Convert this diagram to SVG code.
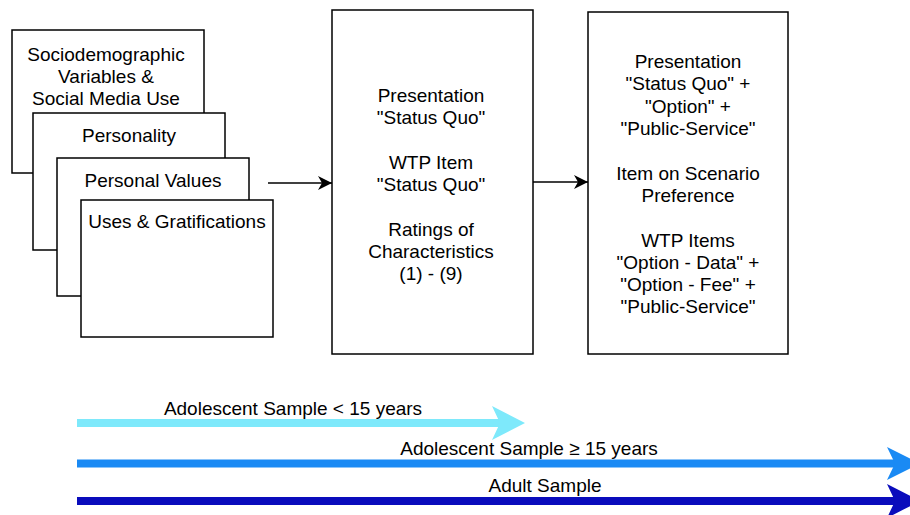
<svg xmlns="http://www.w3.org/2000/svg" width="910" height="515" viewBox="0 0 910 515">
<defs>
<style>
.box{fill:#fff;stroke:#000;stroke-width:1.5}
.t{font-family:"Liberation Sans",Arial,sans-serif;font-size:19px;fill:#000;text-anchor:middle}
.conn{stroke:#000;stroke-width:1.5;fill:none}
</style>
<marker id="ah" markerUnits="userSpaceOnUse" markerWidth="16" markerHeight="14" refX="14" refY="7" orient="auto" viewBox="0 0 16 14">
<path d="M0,0 L14,7 L0,14 L4,7 Z" fill="#000"/>
</marker>
</defs>
<rect width="910" height="515" fill="#fff"/>
<g id="node-sociodemographic">
<rect class="box" x="12" y="30" width="192" height="143"/>
<text class="t" x="106" y="61">Sociodemographic</text>
<text class="t" x="106" y="83">Variables &amp;</text>
<text class="t" x="106" y="105">Social Media Use</text>
</g>
<g id="node-personality">
<rect class="box" x="33" y="113" width="192" height="137"/>
<text class="t" x="129" y="142">Personality</text>
</g>
<g id="node-values">
<rect class="box" x="57" y="158" width="192" height="138"/>
<text class="t" x="153" y="187">Personal Values</text>
</g>
<g id="node-uses">
<rect class="box" x="81" y="200" width="192" height="137"/>
<text class="t" x="177" y="228">Uses &amp; Gratifications</text>
</g>
<g id="node-statusquo">
<rect class="box" x="332" y="10" width="201" height="344"/>
<text class="t" x="431" y="102">Presentation</text>
<text class="t" x="431" y="124">"Status Quo"</text>
<text class="t" x="431" y="169">WTP Item</text>
<text class="t" x="431" y="191">"Status Quo"</text>
<text class="t" x="431" y="236">Ratings of</text>
<text class="t" x="431" y="258">Characteristics</text>
<text class="t" x="431" y="280">(1) - (9)</text>
</g>
<g id="node-options">
<rect class="box" x="588" y="12" width="200" height="342"/>
<text class="t" x="688" y="68">Presentation</text>
<text class="t" x="688" y="90">"Status Quo" +</text>
<text class="t" x="688" y="113">"Option" +</text>
<text class="t" x="688" y="135">"Public-Service"</text>
<text class="t" x="688" y="180">Item on Scenario</text>
<text class="t" x="688" y="202">Preference</text>
<text class="t" x="688" y="247">WTP Items</text>
<text class="t" x="688" y="269">"Option - Data" +</text>
<text class="t" x="688" y="291">"Option - Fee" +</text>
<text class="t" x="688" y="313">"Public-Service"</text>
</g>
<g id="connectors">
<line class="conn" x1="268" y1="183" x2="332" y2="183" marker-end="url(#ah)"/>
<line class="conn" x1="533" y1="182" x2="588" y2="182" marker-end="url(#ah)"/>
</g>
<g id="timeline-adolescent-under15">
<line x1="77" y1="423" x2="500" y2="423" stroke="#7ee9fb" stroke-width="8"/>
<polygon points="492,406 525,423 492,440 500,423" fill="#7ee9fb"/>
<text class="t" x="293" y="415">Adolescent Sample &lt; 15 years</text>
</g>
<g id="timeline-adolescent-15plus">
<line x1="77" y1="463.5" x2="895" y2="463.5" stroke="#1a8af4" stroke-width="8"/>
<polygon points="887,447 920,463.5 887,480 895,463.5" fill="#1a8af4"/>
<text class="t" x="529" y="455">Adolescent Sample ≥ 15 years</text>
</g>
<g id="timeline-adult">
<line x1="77" y1="501" x2="895" y2="501" stroke="#0a0cbc" stroke-width="8"/>
<polygon points="887,484 920,501 887,518 895,501" fill="#0a0cbc"/>
<text class="t" x="545" y="492">Adult Sample</text>
</g>
</svg>
